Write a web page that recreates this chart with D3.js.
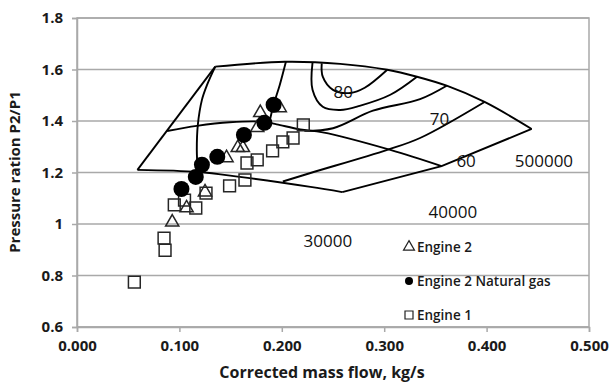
<!DOCTYPE html>
<html>
<head>
<meta charset="utf-8">
<script src="https://cdn.jsdelivr.net/npm/d3@7"></script>
<style>
  body { margin: 0; background: #fff; }
  text { font-family: "Open Sans", sans-serif; fill: #1a1a1a; }
</style>
</head>
<body>
<div id="chart"></div>
<script>
// measured points (kg/s, P2/P1)
var engine1 = [[0.056,0.774],[0.085,0.945],[0.086,0.898],[0.095,1.074],[0.105,1.093],[0.116,1.062],
    [0.126,1.120],[0.149,1.148],[0.164,1.171],[0.166,1.237],[0.176,1.249],[0.191,1.284],
    [0.201,1.319],[0.211,1.334],[0.221,1.385]];
var engine2 = [[0.093,1.007],[0.107,1.062],[0.125,1.124],[0.146,1.257],[0.157,1.296],[0.162,1.296],
    [0.176,1.374],[0.179,1.432],[0.198,1.451]];
var engine2Gas = [[0.102,1.136],[0.116,1.183],[0.122,1.230],[0.137,1.261],[0.163,1.346],
    [0.183,1.393],[0.192,1.463]];

// compressor map lines
var surgeLine = [[0.059,1.21],[0.135,1.611]];
var topLine = [[0.135,1.611],[0.203,1.630],[0.257,1.622],[0.303,1.599],[0.332,1.572],
    [0.361,1.537],[0.398,1.474],[0.444,1.369]];
var chokeLine = [[0.444,1.369],[0.356,1.225],[0.259,1.124]];
var speed30 = [[0.059,1.21],[0.118,1.202],[0.159,1.183],[0.228,1.144],[0.259,1.124]];
var speed40 = [[0.088,1.361],[0.117,1.381],[0.149,1.395],[0.182,1.397],[0.195,1.387],
    [0.218,1.367],[0.240,1.356],[0.306,1.288],[0.356,1.225]];
var innerLeft = [[0.135,1.611],[0.127,1.54],[0.122,1.482],[0.118,1.385],[0.117,1.288],[0.118,1.202]];
var innerTop = [[0.204,1.630],[0.198,1.54],[0.192,1.463],[0.188,1.397]];
var eff80 = [[0.239,1.624],[0.240,1.572],[0.250,1.521],[0.267,1.509],[0.281,1.529],[0.303,1.599]];
var eff75 = [[0.230,1.627],[0.230,1.521],[0.240,1.455],[0.257,1.443],[0.276,1.459],[0.306,1.502],[0.332,1.572]];
var eff70 = [[0.222,1.362],[0.250,1.372],[0.289,1.440],[0.335,1.485],[0.361,1.537]];
var eff60 = [[0.201,1.165],[0.228,1.198],[0.303,1.288],[0.335,1.334],[0.398,1.474]];

var mapLabels = [
    {t: "80", x: 0.260, y: 1.490},
    {t: "70", x: 0.354, y: 1.383},
    {t: "60", x: 0.380, y: 1.222},
    {t: "500000", x: 0.456, y: 1.222},
    {t: "40000", x: 0.367, y: 1.022},
    {t: "30000", x: 0.245, y: 0.910}
];

var xTicks = [0, 0.1, 0.2, 0.3, 0.4, 0.5];
var yTicks = [0.6, 0.8, 1, 1.2, 1.4, 1.6, 1.8];

var w = 613, h = 385;
var margin = {top: 18, right: 24, bottom: 58, left: 77};
var width = w - margin.left - margin.right,
    height = h - margin.top - margin.bottom;

var x = d3.scaleLinear().domain([0, 0.5]).range([0, width]);
var y = d3.scaleLinear().domain([0.6, 1.8]).range([height, 0]);

var svg = d3.select("#chart").append("svg")
    .attr("width", w)
    .attr("height", h)
  .append("g")
    .attr("transform", "translate(" + margin.left + "," + margin.top + ")");

// gridlines
svg.selectAll(".grid")
    .data(yTicks)
    .enter().append("line")
    .attr("x1", 0).attr("x2", width)
    .attr("y1", function(d) { return y(d); })
    .attr("y2", function(d) { return y(d); })
    .attr("stroke", "#a9a9a9")
    .attr("stroke-width", 1.5);

svg.append("rect")
    .attr("width", width).attr("height", height)
    .attr("fill", "none")
    .attr("stroke", "#a9a9a9")
    .attr("stroke-width", 1.5);

// axes
var xAxis = svg.append("g")
    .attr("transform", "translate(0," + height + ")")
    .call(d3.axisBottom(x).tickValues(xTicks).tickSize(5).tickPadding(8).tickFormat(d3.format(".3f")));
var yAxis = svg.append("g")
    .call(d3.axisLeft(y).tickValues(yTicks).tickSize(5).tickPadding(9)
        .tickFormat(function(d) { return d === 1 ? "1" : d.toFixed(1); }));

[xAxis, yAxis].forEach(function(a) {
    a.select(".domain").attr("stroke", "#a9a9a9").attr("stroke-width", 1.5);
    a.selectAll(".tick line").attr("stroke", "#a9a9a9").attr("stroke-width", 1.5);
    a.selectAll(".tick text")
        .attr("fill", "#1a1a1a")
        .style("font-size", "15px")
        .style("font-weight", "bold")
        .style("font-family", "'Open Sans', sans-serif");
});

// compressor map
var line = d3.line()
    .x(function(d) { return x(d[0]); })
    .y(function(d) { return y(d[1]); });
var smooth = d3.line()
    .x(function(d) { return x(d[0]); })
    .y(function(d) { return y(d[1]); })
    .curve(d3.curveCatmullRom.alpha(0.5));

[surgeLine, chokeLine].forEach(function(l) {
    svg.append("path").attr("d", line(l))
        .attr("fill", "none").attr("stroke", "#000").attr("stroke-width", 1.9);
});
[topLine, speed30, speed40, innerLeft, innerTop, eff80, eff75, eff70, eff60].forEach(function(l) {
    svg.append("path").attr("d", smooth(l))
        .attr("fill", "none").attr("stroke", "#000").attr("stroke-width", 1.9);
});

svg.selectAll(".maplabel")
    .data(mapLabels)
    .enter().append("text")
    .attr("x", function(d) { return x(d.x); })
    .attr("y", function(d) { return y(d.y); })
    .attr("text-anchor", "middle")
    .style("font-size", "17px")
    .style("fill", "#111")
    .text(function(d) { return d.t; });

// markers
var sq = d3.symbol().type(d3.symbolSquare).size(140);
var tri = d3.symbol().type(d3.symbolTriangle).size(76);

svg.selectAll(".e1")
    .data(engine1)
    .enter().append("path")
    .attr("d", sq)
    .attr("transform", function(d) { return "translate(" + x(d[0]) + "," + y(d[1]) + ")"; })
    .attr("fill", "none")
    .attr("stroke", "#262626")
    .attr("stroke-width", 1.5);

svg.selectAll(".e2")
    .data(engine2)
    .enter().append("path")
    .attr("d", tri)
    .attr("transform", function(d) { return "translate(" + x(d[0]) + "," + y(d[1]) + ")"; })
    .attr("fill", "none")
    .attr("stroke", "#262626")
    .attr("stroke-width", 1.5);

svg.selectAll(".e2g")
    .data(engine2Gas)
    .enter().append("circle")
    .attr("cx", function(d) { return x(d[0]); })
    .attr("cy", function(d) { return y(d[1]); })
    .attr("r", 8)
    .attr("fill", "#000");

// legend
var legend = [
    {t: "Engine 2", s: "tri"},
    {t: "Engine 2 Natural gas", s: "circ"},
    {t: "Engine 1", s: "sq"}
];
var lg = svg.append("g").attr("transform", "translate(" + (409 - margin.left) + "," + (247 - margin.top) + ")");
var item = lg.selectAll(".lg")
    .data(legend)
    .enter().append("g")
    .attr("transform", function(d, i) { return "translate(0," + (i * 34) + ")"; });
item.each(function(d) {
    var g = d3.select(this);
    if (d.s == "tri") g.append("path").attr("d", d3.symbol().type(d3.symbolTriangle).size(52))
        .attr("fill", "none").attr("stroke", "#222").attr("stroke-width", 1.2);
    else if (d.s == "circ") g.append("circle").attr("r", 4).attr("fill", "#000");
    else g.append("path").attr("d", d3.symbol().type(d3.symbolSquare).size(64))
        .attr("fill", "none").attr("stroke", "#222").attr("stroke-width", 1.2);
});
item.append("text")
    .attr("x", 8)
    .attr("y", 5)
    .style("font-size", "13.5px")
    .style("font-weight", "600")
    .text(function(d) { return d.t; });

// axis labels
svg.append("text")
    .attr("x", width / 2 - 11)
    .attr("y", height + 51)
    .attr("text-anchor", "middle")
    .style("font-size", "16px")
    .style("font-weight", "bold")
    .text("Corrected mass flow, kg/s");

svg.append("text")
    .attr("transform", "rotate(-90)")
    .attr("x", -(172 - margin.top))
    .attr("y", -57)
    .attr("text-anchor", "middle")
    .style("font-size", "15px")
    .style("font-weight", "bold")
    .text("Pressure ration P2/P1");
</script>
</body>
</html>
